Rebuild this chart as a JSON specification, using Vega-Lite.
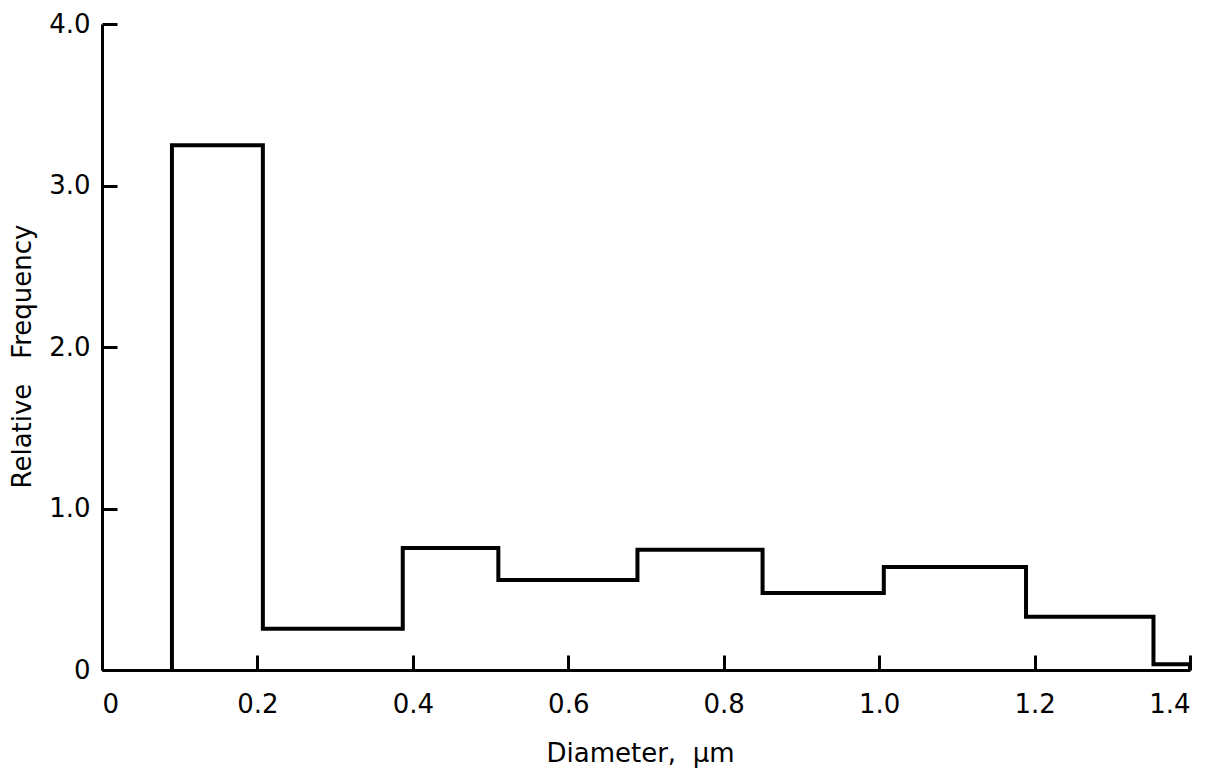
{
  "$schema": "https://vega.github.io/schema/vega-lite/v6.json",
  "autosize": "none",
  "width": 1088,
  "height": 646,
  "padding": {"left": 102, "top": 24, "right": 21, "bottom": 102},
  "background": "white",
  "config": {
    "view": {"stroke": null},
    "axis": {
      "grid": false,
      "domainColor": "black",
      "domainWidth": 3,
      "tickColor": "black",
      "tickWidth": 3,
      "labelColor": "black",
      "titleColor": "black",
      "labelFont": "DejaVu Sans",
      "titleFont": "DejaVu Sans",
      "labelFontSize": 26,
      "titleFontSize": 26,
      "titleFontWeight": "normal"
    }
  },
  "data": {
    "values": [
      {"diameter": 0.09, "freq": 0},
      {"diameter": 0.09, "freq": 3.25},
      {"diameter": 0.207, "freq": 0.255},
      {"diameter": 0.387, "freq": 0.755},
      {"diameter": 0.51, "freq": 0.557},
      {"diameter": 0.689, "freq": 0.745},
      {"diameter": 0.85, "freq": 0.477},
      {"diameter": 1.006, "freq": 0.638},
      {"diameter": 1.189, "freq": 0.33},
      {"diameter": 1.353, "freq": 0.035},
      {"diameter": 1.4, "freq": 0}
    ]
  },
  "mark": {"type": "line", "interpolate": "step-after", "color": "black", "strokeWidth": 4, "strokeJoin": "miter"},
  "encoding": {
    "x": {
      "field": "diameter",
      "type": "quantitative",
      "scale": {"domain": [0, 1.4], "nice": false, "zero": true},
      "axis": {
        "values": [0, 0.2, 0.4, 0.6, 0.8, 1.0, 1.2, 1.4],
        "labelExpr": "datum.value == 0 ? '0' : format(datum.value, '.1f')",
        "tickSize": -15,
        "labelPadding": 36,
        "title": "Diameter,\u00a0\u00a0μm",
        "titleX": 538,
        "titleY": 83,
        "titleAnchor": null,
        "titleAlign": "center",
        "titleBaseline": "middle"
      }
    },
    "y": {
      "field": "freq",
      "type": "quantitative",
      "scale": {"domain": [0, 4], "nice": false},
      "axis": {
        "values": [0, 1, 2, 3, 4],
        "labelExpr": "datum.value == 0 ? '0' : format(datum.value, '.1f')",
        "tickSize": -15,
        "labelPadding": 27,
        "title": "Relative\u00a0\u00a0\u00a0Frequency",
        "titleX": -80,
        "titleY": 332,
        "titleAngle": -90,
        "titleAlign": "center",
        "titleBaseline": "middle"
      }
    },
    "order": {"value": null}
  }
}
